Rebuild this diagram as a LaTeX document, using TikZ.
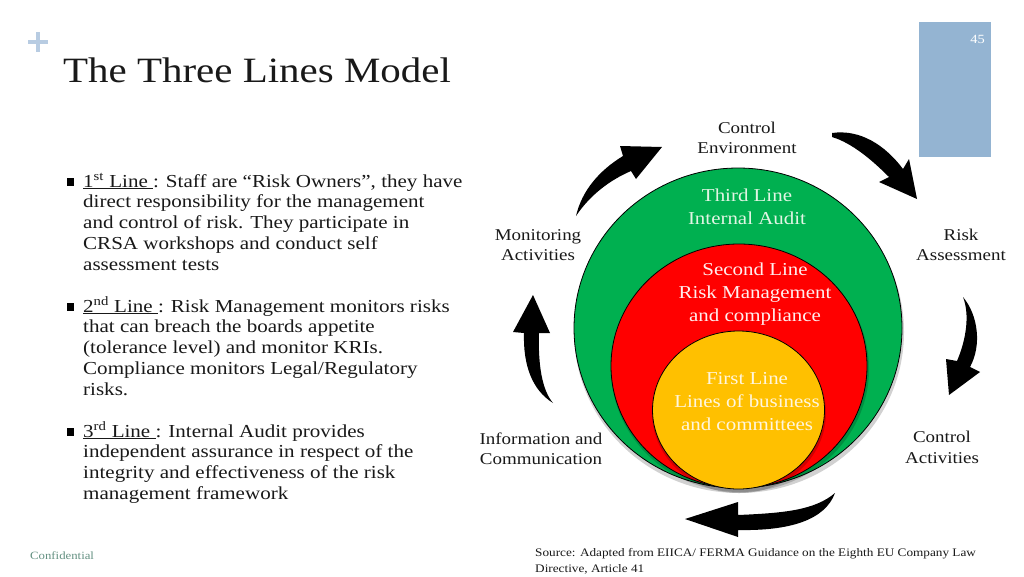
\documentclass[tikz,border=0pt]{standalone}
\usepackage{fontspec}
\setmainfont{Liberation Serif}[FakeStretch=1.15]
\definecolor{plusblue}{RGB}{184,204,226}
\definecolor{boxblue}{RGB}{148,180,210}
\definecolor{lgreen}{RGB}{0,176,80}
\definecolor{lred}{RGB}{255,0,0}
\definecolor{lyellow}{RGB}{255,192,0}
\definecolor{confcol}{RGB}{100,145,130}
\definecolor{gtext}{RGB}{225,245,228}
\definecolor{rtext}{RGB}{255,238,238}
\definecolor{ytext}{RGB}{255,246,222}
\definecolor{txt}{RGB}{25,25,25}
\tikzset{
  bodytext/.style={anchor=base west, inner sep=0pt, align=left, text=txt,
    font=\fontsize{18.3}{20.8}\selectfont},
  cyclelabel/.style={align=center, inner sep=0pt, text=txt,
    font=\fontsize{16.5}{20.5}\selectfont},
  ring/.style={draw=black, line width=0.8pt},
  ringtext/.style={align=center, inner sep=0pt, font=\fontsize{18.2}{23}\selectfont},
  blockarrow/.style={fill=black, draw=none},
  bulletsq/.style={fill=black, minimum size=7.5pt, inner sep=0pt, draw=none, rectangle},
  shadowfill/.style={fill=black, opacity=0.18},
}
\begin{document}
\begin{tikzpicture}[x=1pt,y=-1pt]
\useasboundingbox[fill=white] (0,0) rectangle (1024,576);

% plus sign and page box
\draw[plusblue, line width=3.5pt] (28,42) -- (48,42) (38,32) -- (38,52);
\fill[boxblue] (919,22) rectangle (991,157);
\node[anchor=base east, text=white, inner sep=0pt, font=\fontsize{12.5}{14}\selectfont] (pagenum) at (985,43) {45};

% title
\node[anchor=base west, inner sep=0pt, text=txt, font=\fontsize{35.6}{40}\selectfont] (title) at (63,82) {The Three Lines Model};

% bullets (nodes anchored at the baseline of their last line)
\node[bulletsq] (b1) at (70.5,182) {};
\node[bulletsq] (b2) at (70.5,307) {};
\node[bulletsq] (b3) at (70.5,432) {};
\node[bodytext] (t1) at (83,270.2) {\underline{1\textsuperscript{st} Line\ }: Staff are “Risk Owners”, they have\\direct responsibility for the management\\and control of risk. They participate in\\CRSA workshops and conduct self\\assessment tests};
\node[bodytext] (t2) at (83,395.2) {\underline{2\textsuperscript{nd} Line\ }: Risk Management monitors risks\\that can breach the boards appetite\\(tolerance level) and monitor KRIs.\\Compliance monitors Legal/Regulatory\\risks.};
\node[bodytext] (t3) at (83,499.4) {\underline{3\textsuperscript{rd} Line\ }: Internal Audit provides\\independent assurance in respect of the\\integrity and effectiveness of the risk\\management framework};

% rings
\fill[shadowfill] (739,332) ellipse [x radius=165pt, y radius=161pt];
\draw[ring, fill=lgreen] (738,328) ellipse [x radius=164pt, y radius=160pt];
\fill[shadowfill] (740,369) ellipse [x radius=129pt, y radius=123pt];
\draw[ring, fill=lred] (739,366) ellipse [x radius=128pt, y radius=122pt];
\fill[shadowfill] (739,413) ellipse [x radius=87pt, y radius=80pt];
\draw[ring, fill=lyellow] (738.5,410) ellipse [x radius=86pt, y radius=79pt];

\node[ringtext, text=gtext] (third) at (747,207) {Third Line\\Internal Audit};
\node[ringtext, text=rtext] (second) at (755,294) {Second Line\\Risk Management\\and compliance};
\node[ringtext, text=ytext] (first) at (747,402) {First Line\\Lines of business\\and committees};

% cycle labels
\node[cyclelabel] (ce) at (747,138) {Control\\Environment};
\node[cyclelabel] (ra) at (961,245) {Risk\\Assessment};
\node[cyclelabel] (ca) at (942,447.5) {Control\\Activities};
\node[cyclelabel] (ic) at (541,449) {Information and\\Communication};
\node[cyclelabel] (ma) at (538,245) {Monitoring\\Activities};

% block arrows
\fill[blockarrow] (576,216) .. controls (582,190) and (600,170) .. (623,156) -- (620,146) -- (662,147) -- (636,179) -- (631,171) .. controls (610,180) and (590,195) .. (576,216) -- cycle;
\fill[blockarrow] (832,133) .. controls (860,129) and (885,145) .. (903,169) -- (909,159) -- (917,199) -- (879,182) -- (889,177) .. controls (872,160) and (852,143) .. (832,137) -- cycle;
\fill[blockarrow] (963,297) .. controls (978,315) and (982,345) .. (970,367) -- (980,372) -- (949,395) -- (946,359) -- (957,361) .. controls (966,340) and (970,315) .. (963,297) -- cycle;
\fill[blockarrow] (835,493) .. controls (815,510) and (785,513) .. (738,515) -- (738,502) -- (685,519) -- (738,537) -- (738,530) .. controls (790,531) and (825,520) .. (835,493) -- cycle;
\fill[blockarrow] (553,403) .. controls (542,390) and (538,365) .. (539,333) -- (550,333) -- (533,295) -- (513,332) -- (524,333) .. controls (523,365) and (532,390) .. (553,403) -- cycle;

% footer
\node[anchor=base west, inner sep=0pt, text=confcol, font=\fontsize{11.1}{13}\selectfont] (conf) at (30,559) {Confidential};
\node[anchor=base west, inner sep=0pt, align=left, text=txt, font=\fontsize{11.5}{16}\selectfont] (src) at (535,572) {Source: Adapted from EIICA/ FERMA Guidance on the Eighth EU Company Law\\Directive, Article 41};
\end{tikzpicture}
\end{document}
